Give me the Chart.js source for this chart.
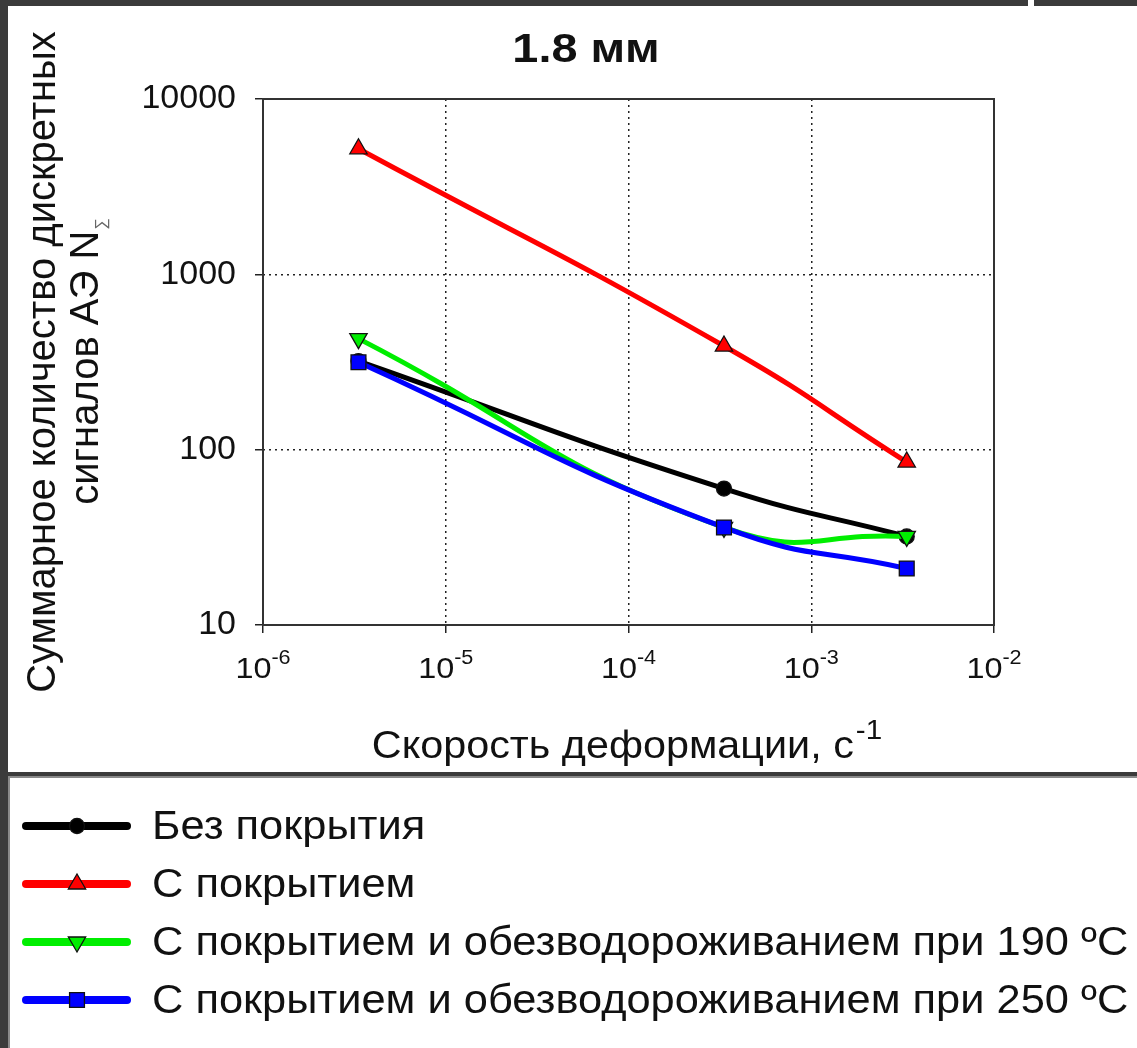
<!DOCTYPE html>
<html><head><meta charset="utf-8">
<script src="https://cdn.jsdelivr.net/npm/chart.js@4.4.1/dist/chart.umd.min.js"></script>
<style>
html,body{margin:0;padding:0;background:#3b3b3b;width:1137px;height:1048px;overflow:hidden;}
#panelTop{position:absolute;left:8px;top:6px;width:1129px;height:766px;background:#fff;}
#notch{position:absolute;left:1028px;top:0;width:6px;height:6px;background:#fff;}
#panelLeg{position:absolute;left:8px;top:776px;width:1129px;height:272px;background:#fff;border-top:2px solid #8a8a8a;border-left:2px solid #8a8a8a;box-sizing:border-box;}
#wrap{position:absolute;left:0;top:0;width:1137px;height:1048px;}
</style></head>
<body>
<div id="panelTop"></div><div id="notch"></div><div id="panelLeg"></div>
<div id="wrap"><canvas id="c" width="1137" height="1048"></canvas></div>
<script>
// ---- data ----
const xValues = [3.33e-6, 3.33e-4, 3.33e-3];
const seriesNames = [
  'Без покрытия',
  'С покрытием',
  'С покрытием и обезводороживанием при 190 ºC',
  'С покрытием и обезводороживанием при 250 ºC'
];
const noCoating = [320, 60, 32];
const coating = [5200, 390, 85];
const coating190 = [430, 36, 32];
const coating250 = [315, 36, 21];
const xTickValues = [1e-6, 1e-5, 1e-4, 1e-3, 1e-2];
const xTickBase = '10';
const xTickExponents = ['-6', '-5', '-4', '-3', '-2'];
const yTickValues = [10, 100, 1000, 10000];
const yTickLabels = ['10', '100', '1000', '10000'];
const titleText = '1.8 мм';
const xTitleText = 'Скорость деформации, с';
const xTitleSup = '-1';
const yTitleLines = ['Суммарное количество дискретных', 'сигналов АЭ N'];
const yTitleSub = '∑';

const FONT = "'Liberation Sans', Arial, sans-serif";
const TXT = '#111';

function pts(arr){ return xValues.map((x,i)=>({x:x, y:arr[i]})); }

const styles = [
  {color:'#000000', pointStyle:'circle', radius:7.5, rotation:0, order:4},
  {color:'#ff0000', pointStyle:'triangle', radius:10, rotation:0, order:3},
  {color:'#00ee00', pointStyle:'triangle', radius:10, rotation:180, order:2},
  {color:'#0000ff', pointStyle:'rect', radius:10.5, rotation:0, order:1}
];
const seriesData = [noCoating, coating, coating190, coating250];

const datasets = seriesData.map((arr,i)=>({
  label: seriesNames[i],
  data: pts(arr),
  borderColor: styles[i].color,
  backgroundColor: styles[i].color,
  pointBackgroundColor: styles[i].color,
  pointBorderColor: '#111',
  pointBorderWidth: 1.3,
  pointStyle: styles[i].pointStyle,
  pointRadius: styles[i].radius,
  pointRotation: styles[i].rotation,
  pointHoverRadius: styles[i].radius,
  borderWidth: 5,
  tension: 0.5,
  order: styles[i].order,
  fill: false
}));

function stretched(ctx, text, x, y, sx, align){
  ctx.save();
  ctx.translate(x, y);
  ctx.scale(sx, 1);
  ctx.textAlign = align;
  ctx.fillText(text, 0, 0);
  ctx.restore();
}

const decor = {
  id: 'decor',
  beforeDatasetsDraw(chart){
    const {ctx, chartArea:a} = chart;
    ctx.save();
    ctx.strokeStyle = '#333';
    ctx.lineWidth = 2;
    ctx.strokeRect(a.left, a.top, a.right - a.left, a.bottom - a.top);
    ctx.restore();
  },
  afterDraw(chart){
    const {ctx} = chart;
    const xs = chart.scales.x;
    ctx.save();
    ctx.fillStyle = TXT;
    ctx.textBaseline = 'alphabetic';
    // title
    ctx.font = 'bold 40px ' + FONT;
    stretched(ctx, titleText, 586, 62, 1.17, 'center');
    // x tick labels with superscripts
    xTickValues.forEach((v,i)=>{
      const px = xs.getPixelForValue(v);
      const sx = 1.08;
      ctx.font = '30px ' + FONT;
      const wb = ctx.measureText(xTickBase).width * sx;
      ctx.font = '20px ' + FONT;
      const we = ctx.measureText(xTickExponents[i]).width * sx;
      const start = px - (wb + we)/2;
      ctx.font = '30px ' + FONT;
      stretched(ctx, xTickBase, start, 678, sx, 'left');
      ctx.font = '20px ' + FONT;
      stretched(ctx, xTickExponents[i], start + wb, 664, sx, 'left');
    });
    // x title
    const tsx = 1.06;
    ctx.font = '39px ' + FONT;
    const wm = ctx.measureText(xTitleText).width * tsx;
    ctx.font = '28px ' + FONT;
    const ws = ctx.measureText(xTitleSup).width * tsx;
    const xs0 = 627 - (wm + ws + 2)/2;
    ctx.font = '39px ' + FONT;
    stretched(ctx, xTitleText, xs0, 758, tsx, 'left');
    ctx.font = '28px ' + FONT;
    stretched(ctx, xTitleSup, xs0 + wm + 2, 739, tsx, 'left');
    // y title (rotated)
    ctx.save();
    ctx.translate(55, 362);
    ctx.rotate(-Math.PI/2);
    ctx.font = '40px ' + FONT;
    ctx.textAlign = 'center';
    ctx.fillText(yTitleLines[0], 0, 0);
    ctx.restore();
    ctx.save();
    ctx.translate(98, 362);
    ctx.rotate(-Math.PI/2);
    ctx.font = '40px ' + FONT;
    const w2 = ctx.measureText(yTitleLines[1]).width;
    ctx.font = '16px ' + FONT;
    const w2s = ctx.measureText(yTitleSub).width;
    const s2 = -(w2 + w2s)/2;
    ctx.textAlign = 'left';
    ctx.font = '40px ' + FONT;
    ctx.fillText(yTitleLines[1], s2, 0);
    ctx.fillStyle = '#666';
    ctx.font = '16px ' + FONT;
    ctx.fillText(yTitleSub, s2 + w2 + 1, 8);
    ctx.restore();
    // legend
    chart.data.datasets.forEach((ds,i)=>{
      const y = 826 + i*58;
      ctx.save();
      ctx.strokeStyle = ds.borderColor;
      ctx.lineWidth = 8;
      ctx.lineCap = 'round';
      ctx.beginPath();
      ctx.moveTo(26, y);
      ctx.lineTo(127, y);
      ctx.stroke();
      ctx.fillStyle = ds.pointBackgroundColor;
      ctx.strokeStyle = ds.pointBorderColor;
      ctx.lineWidth = 1.3;
      Chart.helpers.drawPoint(ctx, {pointStyle: ds.pointStyle, radius: ds.pointRadius, rotation: ds.pointRotation, borderWidth: 1.3}, 77, y);
      ctx.restore();
      ctx.fillStyle = TXT;
      ctx.font = '40px ' + FONT;
      ctx.textBaseline = 'middle';
      stretched(ctx, ds.label, 152, y + 2, 1.085, 'left');
      ctx.textBaseline = 'alphabetic';
    });
    ctx.restore();
  }
};

new Chart(document.getElementById('c'), {
  type: 'line',
  data: { datasets: datasets },
  options: {
    responsive: false,
    animation: false,
    devicePixelRatio: 1,
    layout: { padding: { left: 0, top: 99, right: 143, bottom: 0 } },
    plugins: { legend: { display: false }, title: { display: false }, tooltip: { enabled: false } },
    scales: {
      x: {
        type: 'logarithmic',
        min: xTickValues[0], max: xTickValues[xTickValues.length-1],
        afterBuildTicks: s => { s.ticks = xTickValues.map(v=>({value:v})); },
        afterFit: s => { s.height = 423; },
        ticks: { display: false },
        border: { display: false, dash: [2, 4] },
        grid: { color: '#222', lineWidth: 1.5, drawTicks: true, tickLength: 8, tickColor: '#222', tickWidth: 1.5, tickBorderDash: [] }
      },
      y: {
        type: 'logarithmic',
        min: yTickValues[0], max: yTickValues[yTickValues.length-1],
        afterBuildTicks: s => { s.ticks = yTickValues.map(v=>({value:v})); },
        afterFit: s => { s.width = 263; },
        ticks: {
          padding: 19,
          color: TXT,
          font: { family: FONT, size: 34 },
          callback: (v, i) => yTickLabels[i]
        },
        border: { display: false, dash: [2, 4] },
        grid: { color: '#222', lineWidth: 1.5, drawTicks: true, tickLength: 8, tickColor: '#222', tickWidth: 1.5, tickBorderDash: [] }
      }
    }
  },
  plugins: [decor]
});
</script>
</body></html>
